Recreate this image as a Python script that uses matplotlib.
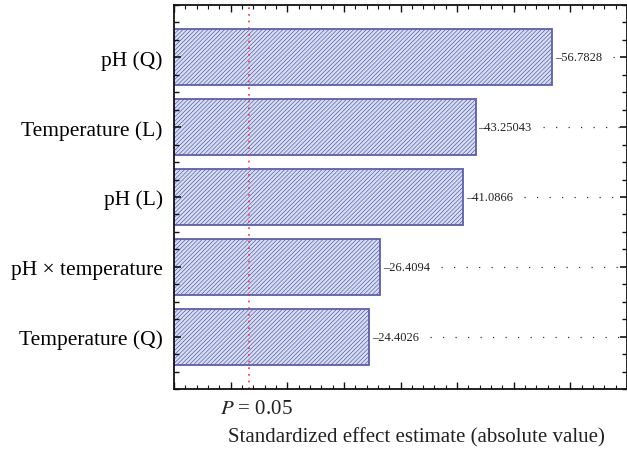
import matplotlib
matplotlib.use("Agg")
import matplotlib.pyplot as plt
from matplotlib.ticker import MultipleLocator

plt.rcParams['font.family'] = ['Liberation Serif', 'DejaVu Serif']
plt.rcParams['mathtext.fontset'] = 'stix'
plt.rcParams['hatch.linewidth'] = 0.5
plt.rcParams['hatch.color'] = '#95a0d2'

factors = ["pH (Q)", "Temperature (L)", "pH (L)", "pH \u00d7 temperature", "Temperature (Q)"]
effects = [56.7828, 43.25043, 41.0866, 26.4094, 24.4026]
labels = ["56.7828", "43.25043", "41.0866", "26.4094", "24.4026"]
p_threshold = 3.18

fig = plt.figure(figsize=(6.27, 4.52), dpi=100)
ax = fig.add_axes([174/627, 62/452, 1 - 174/627, (390-6)/452])

pos = list(range(len(factors)))
ax.barh(pos, [e + 10 for e in effects], left=-10, height=0.8,
        color='#d6def0', edgecolor='#5b5fae', linewidth=1.3, hatch='////////')

ax.axvline(p_threshold, color='#ee3344', linestyle=(0, (1, 3)), linewidth=1.2)

ax.set_xlim(-10, 70)
ax.set_ylim(4.75, -0.75)

fig.canvas.draw()
renderer = fig.canvas.get_renderer()
inv = ax.transData.inverted()
for p, e, lab in zip(pos, effects, labels):
    t = ax.text(e + 0.5, p, "\u2013" + lab, va='center', ha='left', fontsize=9, color='#222222')
    bb = t.get_window_extent(renderer=renderer)
    end_x = inv.transform((bb.x1, 0))[0]
    start = end_x + 2.0
    if start < 70:
        ax.plot([start, 70], [p, p], linestyle=(0, (1, 9)), color='#333333', linewidth=0.9,
                clip_on=True)

ax.set_yticks(pos)
ax.set_yticklabels(factors, fontsize=15.5)
ax.yaxis.set_minor_locator(MultipleLocator(0.25))
ax.xaxis.set_major_locator(MultipleLocator(10))
ax.xaxis.set_minor_locator(MultipleLocator(2))
ax.set_xticklabels([])
ax.tick_params(axis='both', which='both', direction='in', top=True, right=True, color='#111111')
ax.tick_params(axis='x', which='major', length=5, width=1)
ax.tick_params(axis='x', which='minor', length=3, width=0.8)
ax.tick_params(axis='y', which='major', length=5, width=1.2, pad=8)
ax.tick_params(axis='y', which='minor', length=3.5, width=1)
for s in ax.spines.values():
    s.set_linewidth(1.3)
    s.set_color('#111111')

fig.text(220/627, 1 - 410/452, "$P$ = 0.05", fontsize=15, ha='left', va='center', color='#222222')
fig.text(416/627, 1 - 438/452, "Standardized effect estimate (absolute value)", fontsize=15,
         ha='center', va='center', color='#222222')

fig.savefig("out.png", dpi=100)
